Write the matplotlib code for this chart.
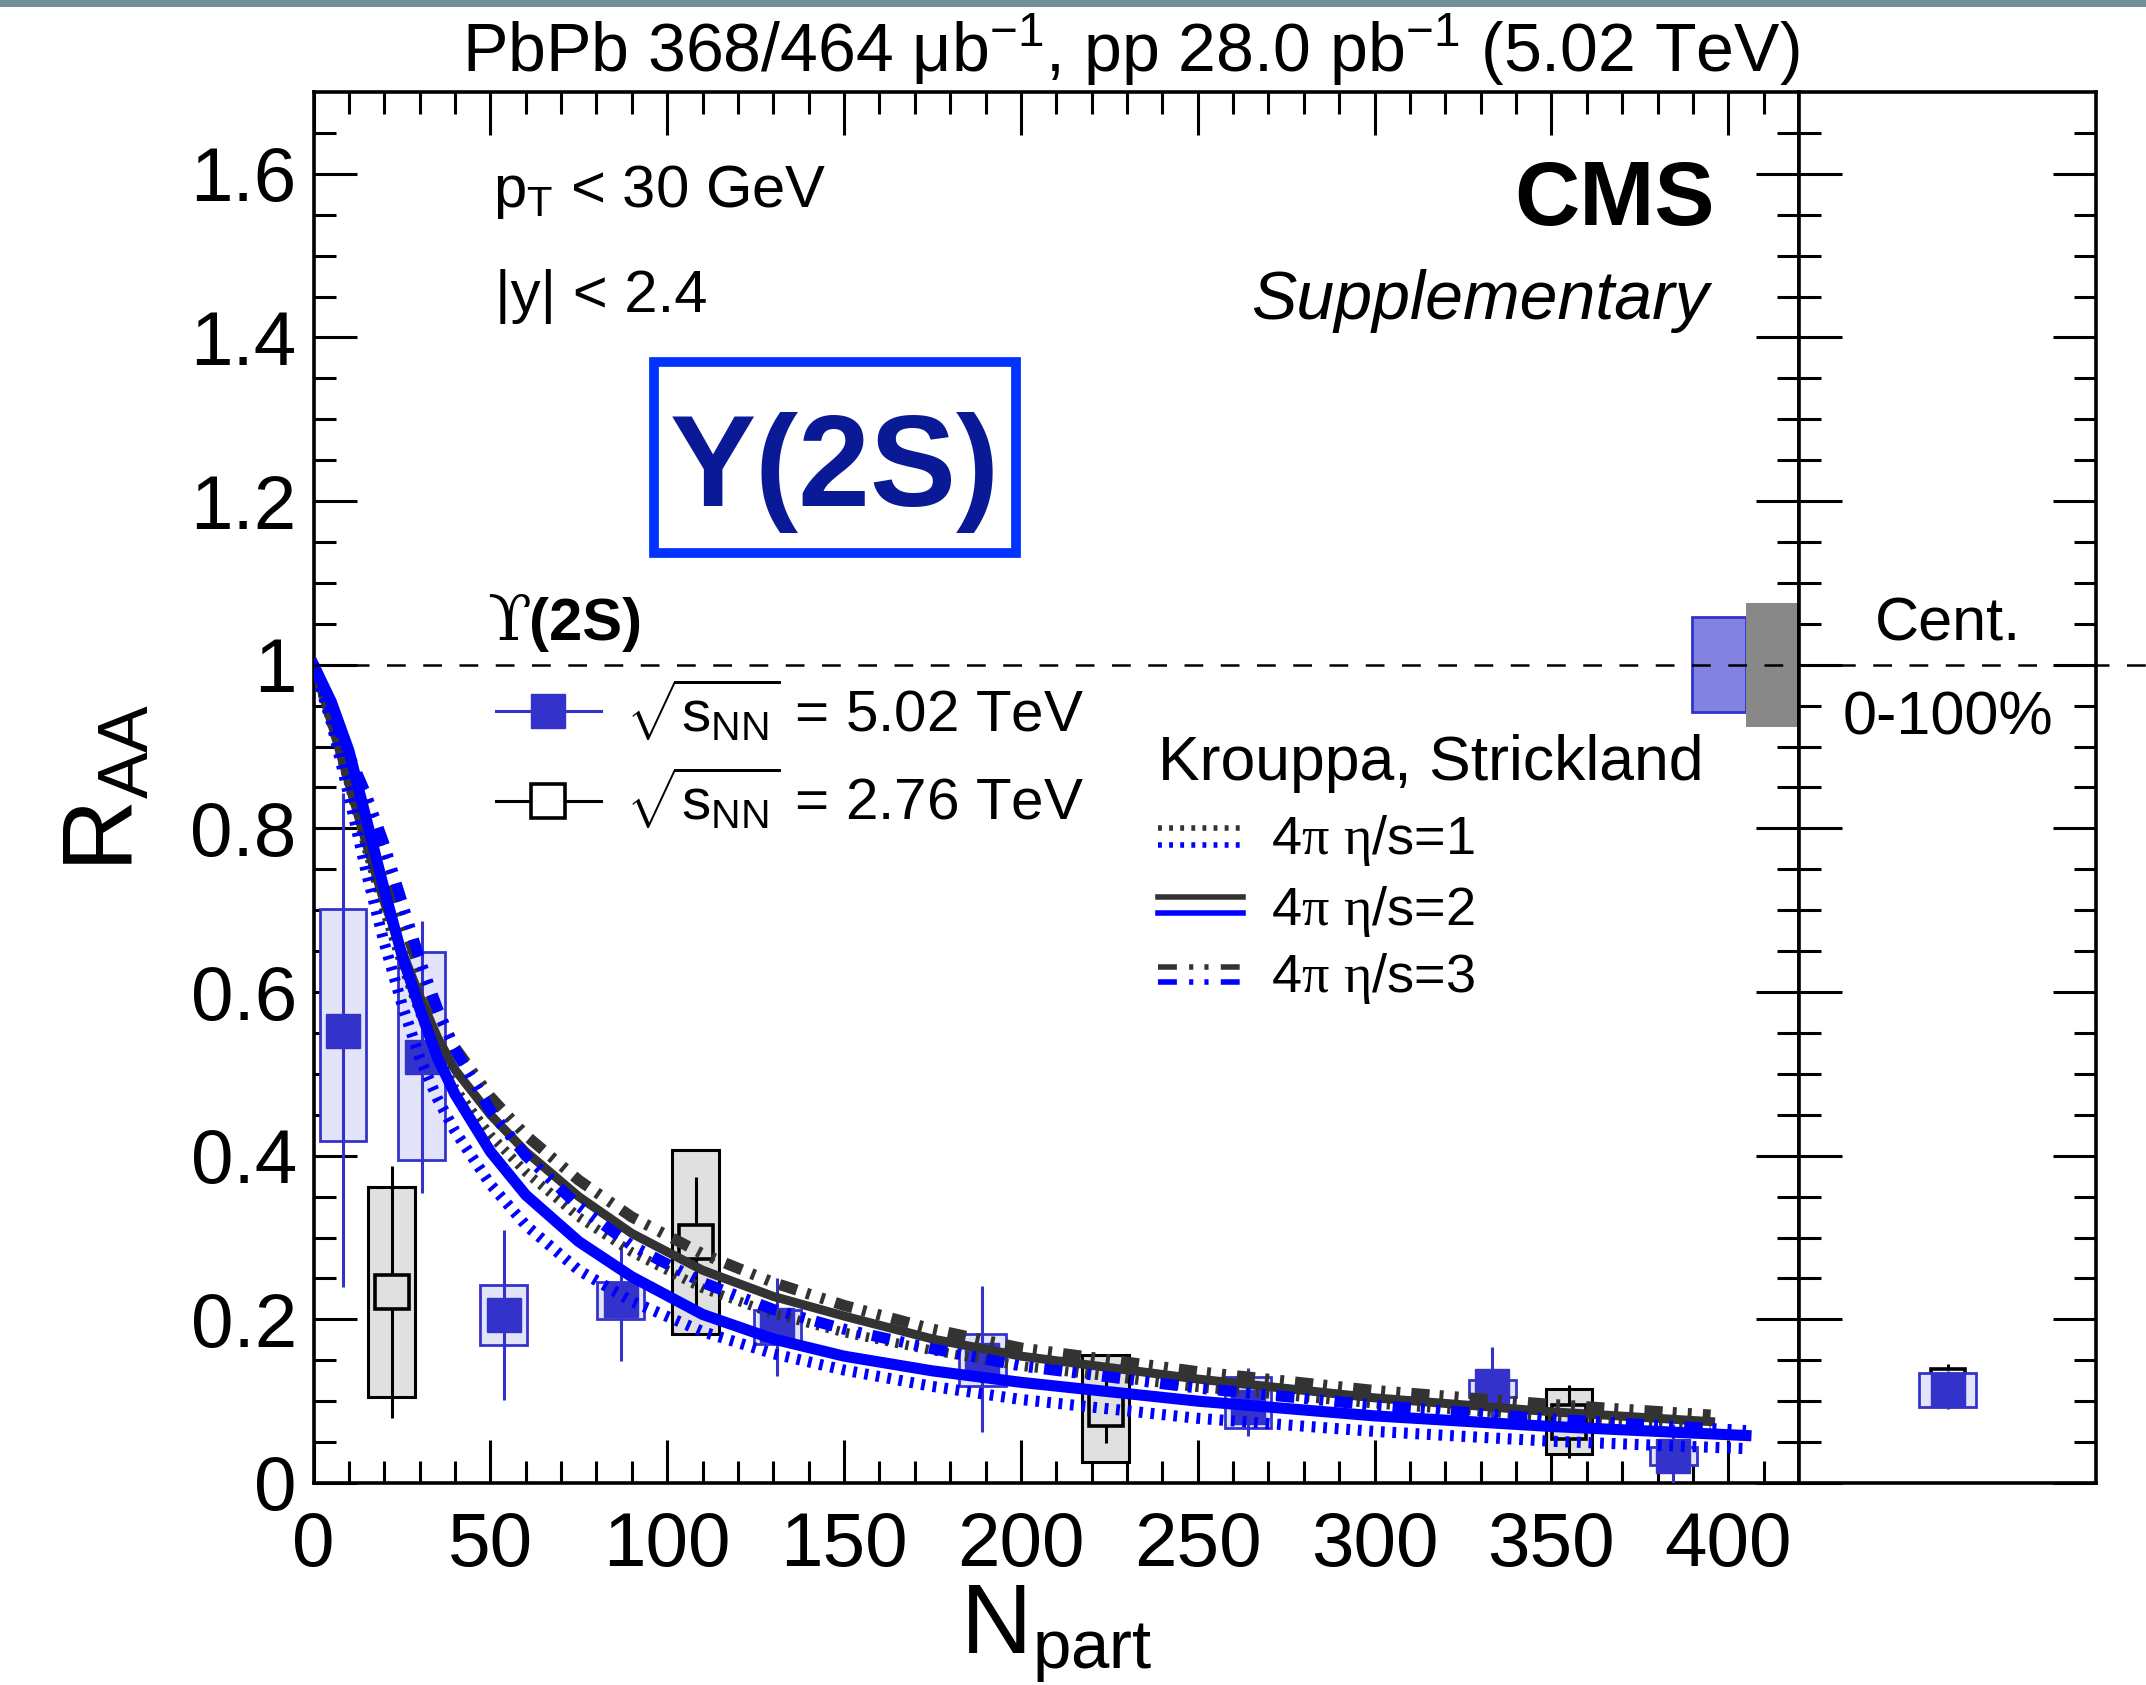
import numpy as np
import matplotlib
matplotlib.use("Agg")
import matplotlib.pyplot as plt
import matplotlib.transforms as mtransforms
from matplotlib.patches import Rectangle
from matplotlib.lines import Line2D

plt.rcParams["font.family"] = ["Liberation Sans", "DejaVu Sans"]
plt.rcParams["mathtext.fontset"] = "custom"
plt.rcParams["mathtext.rm"] = "Liberation Serif"
plt.rcParams["mathtext.sf"] = "Liberation Sans"
plt.rcParams["mathtext.it"] = "Liberation Sans:italic"
plt.rcParams["mathtext.bf"] = "Liberation Sans:bold"

# Upsilon(2S) RAA vs Npart, 5.02 TeV
npart_502 = [8.3, 30.6, 53.8, 86.8, 131.1, 189.1, 264.2, 333.3, 384.5]
raa_502 = [0.552, 0.520, 0.205, 0.224, 0.193, 0.150, 0.093, 0.119, 0.033]
stat_lo_502 = [0.239, 0.355, 0.101, 0.149, 0.131, 0.062, 0.057, 0.072, 0.0]
stat_hi_502 = [0.843, 0.687, 0.309, 0.290, 0.250, 0.241, 0.140, 0.166, 0.072]
syst_lo_502 = [0.418, 0.395, 0.169, 0.201, 0.170, 0.119, 0.067, 0.1055, 0.022]
syst_hi_502 = [0.702, 0.649, 0.242, 0.246, 0.211, 0.182, 0.130, 0.126, 0.044]

# 2.76 TeV
npart_276 = [22.1, 108.0, 224.0, 355.0]
raa_276 = [0.234, 0.294, 0.090, 0.075]
stat_lo_276 = [0.080, 0.214, 0.0485, 0.030]
stat_hi_276 = [0.388, 0.374, 0.132, 0.120]
syst_lo_276 = [0.105, 0.182, 0.026, 0.036]
syst_hi_276 = [0.362, 0.407, 0.1565, 0.1145]

# centrality integrated (0-100%)
cent_502 = 0.114
cent_502_stat = 0.023
cent_502_syst = 0.021
cent_276 = 0.119
cent_276_stat = 0.026

# global uncertainties at RAA = 1
glob_502 = 0.058
glob_276 = 0.076

# Krouppa, Strickland model curves
npart_th_502 = [0, 5, 10, 15, 20, 25, 30, 35, 40, 50, 60, 75, 90, 110, 130, 150, 175, 200, 250, 300, 350, 405]
th_502_eta1 = [1.0, 0.93, 0.84, 0.745, 0.66, 0.585, 0.52, 0.47, 0.43, 0.365, 0.315, 0.26, 0.222, 0.185, 0.158, 0.138, 0.118, 0.102, 0.079, 0.063, 0.051, 0.042]
th_502_eta2 = [1.0, 0.955, 0.895, 0.81, 0.725, 0.645, 0.58, 0.52, 0.475, 0.405, 0.352, 0.295, 0.252, 0.206, 0.176, 0.155, 0.137, 0.123, 0.100, 0.082, 0.069, 0.058]
th_502_eta3 = [1.0, 0.945, 0.89, 0.84, 0.78, 0.71, 0.64, 0.58, 0.53, 0.455, 0.40, 0.338, 0.29, 0.245, 0.212, 0.188, 0.164, 0.143, 0.116, 0.095, 0.078, 0.064]
npart_th_276 = [0, 5, 10, 15, 20, 25, 30, 35, 40, 50, 60, 75, 90, 110, 130, 150, 175, 200, 250, 300, 350, 395]
th_276_eta1 = [1.0, 0.93, 0.855, 0.775, 0.70, 0.635, 0.575, 0.525, 0.482, 0.425, 0.38, 0.325, 0.282, 0.238, 0.207, 0.184, 0.162, 0.143, 0.117, 0.097, 0.081, 0.069]
th_276_eta2 = [1.0, 0.93, 0.855, 0.78, 0.71, 0.65, 0.595, 0.545, 0.505, 0.45, 0.405, 0.35, 0.305, 0.26, 0.228, 0.204, 0.176, 0.155, 0.127, 0.104, 0.087, 0.075]
th_276_eta3 = [1.0, 0.95, 0.89, 0.83, 0.76, 0.69, 0.628, 0.575, 0.532, 0.472, 0.425, 0.37, 0.325, 0.28, 0.245, 0.217, 0.188, 0.165, 0.136, 0.113, 0.096, 0.083]

xticks = [0, 50, 100, 150, 200, 250, 300, 350, 400]
yticks = [0, 0.2, 0.4, 0.6, 0.8, 1.0, 1.2, 1.4, 1.6]
ytick_labels = ["0", "0.2", "0.4", "0.6", "0.8", "1", "1.2", "1.4", "1.6"]

blue_pt = "#3333cc"
blue_box = "#e3e3f9"
grey_box = "#e0e0e0"
blue_th = "#0000ff"
dark_th = "#333333"

# line patterns for the curves (in units of line width)
dotted = (0, (0.34, 0.7))
dashdotdot = (0, (1.64, 0.9, 0.36, 1.0, 0.36, 1.0))
# same patterns for the thinner legend samples
dotted_leg = (0, (0.7, 1.3))
dashdotdot_leg = (0, (3.4, 2.2, 0.75, 2.0, 0.75, 2.2))
halfw = 6.6

fig = plt.figure(figsize=(21.46, 16.85), dpi=100)
ax = fig.add_axes([0.1461, 0.1199, 0.8383 - 0.1461, 0.9454 - 0.1199])
axr = fig.add_axes([0.8383, 0.1199, 0.9769 - 0.8383, 0.9454 - 0.1199])

# textured strip at the very top of the image
fig.patches.append(Rectangle((0, 1 - 7 / 1685), 1, 7 / 1685, transform=fig.transFigure,
                             facecolor="#6f8f9a", edgecolor="none"))

# systematic boxes
for x, lo, hi in zip(npart_276, syst_lo_276, syst_hi_276):
    ax.add_patch(Rectangle((x - halfw, lo), 2 * halfw, hi - lo, facecolor=grey_box,
                           edgecolor="black", lw=2.2, zorder=2))
for x, lo, hi in zip(npart_502, syst_lo_502, syst_hi_502):
    ax.add_patch(Rectangle((x - halfw, lo), 2 * halfw, hi - lo, facecolor=blue_box,
                           edgecolor=blue_pt, lw=2.0, zorder=2))

# stat error bars and markers
ax.vlines(npart_276, stat_lo_276, stat_hi_276, color="black", lw=2.2, zorder=3)
ax.plot(npart_276, raa_276, ls="none", marker="s", ms=25, mfc=grey_box, mec="black",
        mew=2.6, zorder=4)
ax.vlines(npart_502, stat_lo_502, stat_hi_502, color=blue_pt, lw=2.2, zorder=3)
ax.plot(npart_502, raa_502, ls="none", marker="s", ms=25, mfc=blue_pt, mec=blue_pt,
        zorder=4)

# model curves
ax.plot(npart_th_276, th_276_eta1, color=dark_th, lw=7, ls=dotted, zorder=5)
ax.plot(npart_th_276, th_276_eta2, color=dark_th, lw=6.5, zorder=5)
ax.plot(npart_th_276, th_276_eta3, color=dark_th, lw=8, ls=dashdotdot, zorder=5)
ax.plot(npart_th_502, th_502_eta1, color=blue_th, lw=8, ls=dotted, zorder=6)
ax.plot(npart_th_502, th_502_eta2, color=blue_th, lw=8, zorder=6)
ax.plot(npart_th_502, th_502_eta3, color=blue_th, lw=8, ls=dashdotdot, zorder=6)

# global uncertainty boxes
ax.add_patch(Rectangle((389.8, 1 - glob_502), 15.3, 2 * glob_502, facecolor="#8282e0",
                       edgecolor=blue_pt, lw=2, zorder=2))
ax.add_patch(Rectangle((405.1, 1 - glob_276), 14.9, 2 * glob_276, facecolor="#888888",
                       edgecolor="none", zorder=2))

# axes styling
for a in (ax, axr):
    a.set_ylim(0, 1.7)
    a.set_yticks(yticks)
    a.set_yticks(np.arange(0, 1.7, 0.05), minor=True)
    a.tick_params(which="both", direction="in", left=True, right=True, width=2.2)
    a.tick_params(which="major", length=31)
    a.tick_params(which="minor", length=15.5)
    for s in a.spines.values():
        s.set_linewidth(2.6)

ax.set_xlim(0, 420)
ax.set_xticks(xticks)
ax.set_xticks(np.arange(0, 420, 10), minor=True)
ax.set_yticklabels(ytick_labels)
ax.tick_params(which="both", top=True, bottom=True)
ax.tick_params(axis="x", labelsize=55, pad=20)
ax.tick_params(axis="y", labelsize=55, pad=12)

ax.set_xlabel(r"N$_{\mathsf{part}}$", fontsize=71)
ax.xaxis.set_label_coords(0.5, -0.072)
ax.set_ylabel(r"R$_{\mathsf{AA}}$", fontsize=72)
ax.yaxis.set_label_coords(-0.107, 0.5)

axr.set_xlim(0, 1)
axr.set_xticks([])
axr.tick_params(labelleft=False)

# right panel points
axr.vlines([0.5], [cent_276 - cent_276_stat], [cent_276 + cent_276_stat], color="black", lw=2.2, zorder=3)
axr.plot([0.5], [cent_276], ls="none", marker="s", ms=25, mfc="white", mec="black", mew=2.6, zorder=4)
axr.add_patch(Rectangle((0.5 - 0.096, cent_502 - cent_502_syst), 0.192, 2 * cent_502_syst,
                        facecolor=blue_box, edgecolor=blue_pt, lw=2.0, zorder=5))
axr.vlines([0.5], [cent_502 - cent_502_stat], [cent_502 + cent_502_stat], color=blue_pt, lw=2.2, zorder=6)
axr.plot([0.5], [cent_502], ls="none", marker="s", ms=25, mfc=blue_pt, mec=blue_pt, zorder=7)
axr.text(0.5, 1.030, "Cent.", fontsize=44, ha="center", va="baseline")
axr.text(0.5, 0.9144, "0-100%", fontsize=44, ha="center", va="baseline")

# dashed line at RAA = 1, runs to the right edge of the image
trans = mtransforms.blended_transform_factory(fig.transFigure, ax.transData)
fig.add_artist(Line2D([0.1461, 1.0], [1, 1], transform=trans, color="black", lw=1.8,
                      dashes=(7.5, 7), zorder=10))

# texts
fig.text(0.8383, 1 - 72 / 1685,
         r"PbPb 368/464 μb$^{\mathsf{-1}}$, pp 28.0 pb$^{\mathsf{-1}}$ (5.02 TeV)",
         fontsize=49, ha="right", va="baseline")
ax.text(396.3, 1.537, "CMS", fontsize=65, fontweight="bold", ha="right", va="baseline")
ax.text(394.4, 1.4224, "Supplementary", fontsize=49, style="italic", ha="right", va="baseline")
ax.text(50.7, 1.5595, r"p$_{\mathsf{T}}$ < 30 GeV", fontsize=43, ha="left", va="baseline")
ax.text(51.4, 1.4307, "|y| < 2.4", fontsize=43, ha="left", va="baseline")

ax.add_patch(Rectangle((96.4, 1.137), 102.2, 0.233, fill=False, edgecolor="#0033ff", lw=7, zorder=7))
ax.text(147.5, 1.194, "Y(2S)", fontsize=93, fontweight="bold", color="#0a1a96",
        ha="center", va="baseline")

# data legend
ax.text(49.1, 1.0306, "ϒ", fontsize=46, family=["DejaVu Serif", "DejaVu Sans"], ha="left", va="baseline")
ax.text(60.85, 1.0306, "(2S)", fontsize=43, fontweight="bold", ha="left", va="baseline")
ax.plot([51.5, 81.4], [0.9438, 0.9438], color=blue_pt, lw=2.2, zorder=7)
ax.plot([66.4], [0.9438], ls="none", marker="s", ms=25, mfc=blue_pt, mec=blue_pt, zorder=8)
ax.plot([51.5, 81.4], [0.8329, 0.8329], color="black", lw=2.2, zorder=7)
ax.plot([66.4], [0.8329], ls="none", marker="s", ms=25, mfc="white", mec="black", mew=2.6, zorder=8)
ax.text(88.4, 0.9185, r"$\sqrt{\mathsf{s}_{\mathsf{NN}}}$ = 5.02 TeV", fontsize=42, ha="left", va="baseline")
ax.text(88.4, 0.8105, r"$\sqrt{\mathsf{s}_{\mathsf{NN}}}$ = 2.76 TeV", fontsize=42, ha="left", va="baseline")

# model legend
ax.text(238.7, 0.8594, "Krouppa, Strickland", fontsize=45, ha="left", va="baseline")
leg_rows = [(0.800, 0.780, 0.769, dotted_leg, r"4$\mathrm{\pi}$ $\mathrm{\eta}$/s=1"),
            (0.7159, 0.6963, 0.682, "-", r"4$\mathrm{\pi}$ $\mathrm{\eta}$/s=2"),
            (0.6312, 0.6117, 0.600, dashdotdot_leg, r"4$\mathrm{\pi}$ $\mathrm{\eta}$/s=3")]
for yd, yb, yt, ls, lab in leg_rows:
    ax.plot([238.7, 262.9], [yd, yd], color=dark_th, lw=4, ls=ls, zorder=7)
    ax.plot([238.7, 262.9], [yb, yb], color=blue_th, lw=4, ls=ls, zorder=7)
    ax.text(270.8, yt, lab, fontsize=39, ha="left", va="baseline")

fig.savefig("out.png", dpi=100)
